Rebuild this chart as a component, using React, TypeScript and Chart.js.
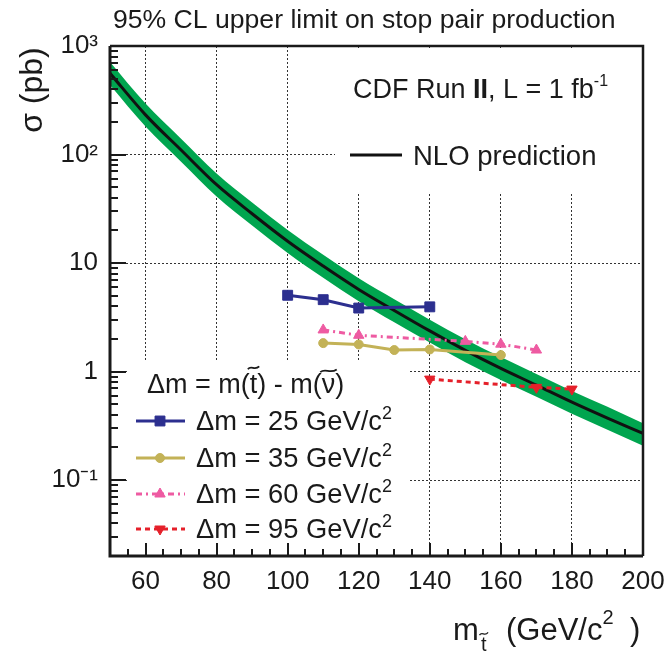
import React, { useEffect, useRef } from 'react';
import { Chart, registerables } from 'chart.js';

Chart.register(...registerables);

// ---------- data ----------
const stopMass = [50, 60, 70, 80, 90, 100, 110, 120, 130, 140, 150, 160, 170, 180, 190, 200];
const nloXsec = [560, 232, 110, 52.7, 28.5, 15.9, 9.4, 5.72, 3.66, 2.37, 1.57, 1.07, 0.75, 0.523, 0.373, 0.27];
const nloUpper = [711, 295, 140, 67, 36.2, 20.2, 11.9, 7.26, 4.65, 3.01, 1.99, 1.36, 0.95, 0.664, 0.474, 0.335];
const nloLower = [437, 181, 86, 41.1, 22.2, 12.4, 7.33, 4.46, 2.85, 1.85, 1.22, 0.835, 0.585, 0.408, 0.291, 0.207];

const dm25Mass = [100, 110, 120, 140];
const dm25Limit = [5.05, 4.6, 3.85, 3.95];
const dm35Mass = [110, 120, 130, 140, 160];
const dm35Limit = [1.83, 1.78, 1.58, 1.6, 1.42];
const dm60Mass = [110, 120, 150, 160, 170];
const dm60Limit = [2.42, 2.16, 1.9, 1.79, 1.58];
const dm95Mass = [140, 170, 180];
const dm95Limit = [0.853, 0.716, 0.69];

const seriesDeltaM = ['25', '35', '60', '95'];
const xTickValues = [60, 80, 100, 120, 140, 160, 180, 200];
const yTickValues = [0.1, 1, 10, 100, 1000];
const yTickLabels = ['10\u207B\u00B9', '1', '10', '10\u00B2', '10\u00B3'];

const FONT = "'Liberation Sans', Arial, Helvetica, sans-serif";
const INK = '#1a1a1a';

const pts = (xs: number[], ys: number[]) => xs.map((x, i) => ({ x, y: ys[i] }));

type Part = { t: string; size: number; dy?: number; bold?: boolean; x?: number; tilde?: number };

function drawTilde(ctx: CanvasRenderingContext2D, x0: number, w: number, y: number, lw: number) {
  ctx.save();
  ctx.strokeStyle = ctx.fillStyle as string;
  ctx.lineWidth = lw;
  ctx.setLineDash([]);
  ctx.beginPath();
  ctx.moveTo(x0, y + 1.2);
  ctx.bezierCurveTo(x0 + w * 0.3, y - 3.2, x0 + w * 0.6, y + 3.2, x0 + w, y - 1.6);
  ctx.stroke();
  ctx.restore();
}

function drawRich(ctx: CanvasRenderingContext2D, x: number, y: number, parts: Part[]) {
  let cx = x;
  for (const p of parts) {
    if (p.x !== undefined) cx = p.x;
    ctx.font = `${p.bold ? 'bold ' : ''}${p.size}px ${FONT}`;
    const by = y + (p.dy || 0);
    ctx.fillText(p.t, cx, by);
    const w = ctx.measureText(p.t).width;
    if (p.tilde !== undefined) {
      const tw = Math.max(w + 3, p.size * 0.42);
      drawTilde(ctx, cx + w / 2 - tw / 2, tw, by - p.tilde, p.size > 24 ? 1.8 : 1.3);
    }
    cx += w;
  }
}

function drawMarker(ctx: CanvasRenderingContext2D, style: string, rot: number, r: number, x: number, y: number, color: string) {
  ctx.save();
  ctx.fillStyle = color;
  ctx.strokeStyle = color;
  ctx.lineWidth = 1;
  ctx.setLineDash([]);
  ctx.beginPath();
  if (style === 'rect') {
    const s = r * Math.SQRT1_2;
    ctx.rect(x - s, y - s, 2 * s, 2 * s);
  } else if (style === 'circle') {
    ctx.arc(x, y, r, 0, Math.PI * 2);
  } else {
    let a = (rot * Math.PI) / 180;
    ctx.moveTo(x + Math.sin(a) * r, y - Math.cos(a) * r);
    a += (2 * Math.PI) / 3;
    ctx.lineTo(x + Math.sin(a) * r, y - Math.cos(a) * r);
    a += (2 * Math.PI) / 3;
    ctx.lineTo(x + Math.sin(a) * r, y - Math.cos(a) * r);
    ctx.closePath();
  }
  ctx.fill();
  ctx.stroke();
  ctx.restore();
}

const decorPlugin = {
  id: 'decor',
  beforeDatasetsDraw(chart: any) {
    const { ctx, chartArea } = chart;
    ctx.save();
    ctx.fillStyle = '#ffffff';
    // legend boxes hide the grid behind them
    ctx.fillRect(127, 360, 408 - 127, chartArea.bottom - 2 - 360);
    ctx.fillRect(335, chartArea.top + 2, chartArea.right - 2 - 335, 193 - chartArea.top - 2);
    ctx.restore();
  },
  afterDraw(chart: any) {
    const { ctx, chartArea } = chart;
    const { left, right, top, bottom } = chartArea;
    const xs = chart.scales.x;
    const ys = chart.scales.y;
    ctx.save();
    ctx.setLineDash([]);
    ctx.strokeStyle = INK;

    // tick marks (inward)
    ctx.lineWidth = 2;
    for (let e = -2; e <= 3; e++) {
      for (let k = 1; k <= 9; k++) {
        const v = k * Math.pow(10, e);
        if (v < ys.min * 0.999 || v > ys.max * 1.001) continue;
        const y = Math.round(ys.getPixelForValue(v));
        const len = k === 1 ? 16 : 8;
        ctx.beginPath();
        ctx.moveTo(left, y);
        ctx.lineTo(left + len, y);
        ctx.stroke();
      }
    }
    for (let v = 55; v <= 200; v += 5) {
      const x = Math.round(xs.getPixelForValue(v));
      const len = v % 20 === 0 ? 13 : 7;
      ctx.beginPath();
      ctx.moveTo(x, bottom);
      ctx.lineTo(x, bottom - len);
      ctx.stroke();
    }

    // frame
    ctx.lineWidth = 3;
    ctx.beginPath();
    ctx.moveTo(left, top);
    ctx.lineTo(left, bottom);
    ctx.lineTo(right, bottom);
    ctx.stroke();
    ctx.lineWidth = 2.5;
    ctx.beginPath();
    ctx.moveTo(left, top);
    ctx.lineTo(right, top);
    ctx.lineTo(right, bottom);
    ctx.stroke();

    ctx.fillStyle = INK;
    ctx.textAlign = 'left';
    ctx.textBaseline = 'alphabetic';

    // title
    drawRich(ctx, 113, 28, [{ t: '95% CL upper limit on stop pair production', size: 26.6 }]);

    // y axis title
    ctx.save();
    ctx.translate(33, 90);
    ctx.rotate(-Math.PI / 2);
    ctx.textAlign = 'center';
    ctx.textBaseline = 'middle';
    ctx.font = `32px ${FONT}`;
    ctx.fillText('\u03C3 (pb)', 0, 0);
    ctx.restore();

    // x axis title
    drawRich(ctx, 453, 640, [
      { t: 'm', size: 31 },
      { t: 't', size: 20, dy: 11, x: 481, tilde: 17 },
      { t: '(GeV/c', size: 31, x: 506 },
      { t: '2', size: 20, dy: -16 },
    ]);
    ctx.font = `31px ${FONT}`;
    ctx.fillText(')', 630, 640);

    // experiment label
    drawRich(ctx, 353, 98, [
      { t: 'CDF Run ', size: 27 },
      { t: 'II', size: 27, bold: true },
      { t: ', L = 1 fb', size: 27 },
      { t: '-1', size: 16, dy: -12 },
    ]);

    // NLO legend
    const nlo = chart.data.datasets[4];
    ctx.strokeStyle = nlo.borderColor;
    ctx.lineWidth = nlo.borderWidth;
    ctx.beginPath();
    ctx.moveTo(350, 155);
    ctx.lineTo(402, 155);
    ctx.stroke();
    drawRich(ctx, 413, 165, [{ t: 'NLO prediction', size: 27.5 }]);

    // Δm legend
    drawRich(ctx, 147, 393, [
      { t: '\u0394m = m(', size: 27 },
      { t: 't', size: 27, tilde: 25 },
      { t: ') - m(', size: 27 },
      { t: '\u03BD', size: 27, tilde: 22 },
      { t: ')', size: 27 },
    ]);
    const rowBase = [430, 467, 503, 538];
    for (let i = 0; i < 4; i++) {
      const ds = chart.data.datasets[i];
      const yc = rowBase[i] - 9;
      ctx.save();
      ctx.strokeStyle = ds.borderColor;
      ctx.lineWidth = ds.borderWidth;
      ctx.setLineDash(ds.borderDash || []);
      ctx.beginPath();
      ctx.moveTo(136, yc);
      ctx.lineTo(185, yc);
      ctx.stroke();
      ctx.restore();
      drawMarker(ctx, ds.pointStyle, ds.pointRotation || 0, ds.pointRadius, 160, yc, ds.borderColor);
      ctx.fillStyle = INK;
      drawRich(ctx, 196, rowBase[i], [
        { t: `\u0394m = ${seriesDeltaM[i]} GeV/c`, size: 27.3 },
        { t: '2', size: 18, dy: -11 },
      ]);
    }
    ctx.restore();
  },
};

const seriesStyle = [
  { color: '#2c2f8f', style: 'rect', rot: 0, r: 7, dash: [] as number[] },
  { color: '#c3b257', style: 'circle', rot: 0, r: 4.5, dash: [] as number[] },
  { color: '#ee5ba2', style: 'triangle', rot: 0, r: 6, dash: [6, 4, 2, 4] },
  { color: '#e5202a', style: 'triangle', rot: 180, r: 6, dash: [5, 4] },
];

export default function App() {
  const ref = useRef<HTMLCanvasElement>(null);
  useEffect(() => {
    document.body.style.margin = '0';
    const canvas = ref.current;
    if (!canvas) return;
    const seriesData = [
      pts(dm25Mass, dm25Limit),
      pts(dm35Mass, dm35Limit),
      pts(dm60Mass, dm60Limit),
      pts(dm95Mass, dm95Limit),
    ];
    const seriesSets = seriesData.map((d, i) => ({
      label: `\u0394m = ${seriesDeltaM[i]} GeV/c\u00B2`,
      data: d,
      borderColor: seriesStyle[i].color,
      backgroundColor: seriesStyle[i].color,
      borderWidth: 3,
      borderDash: seriesStyle[i].dash,
      pointStyle: seriesStyle[i].style,
      pointRotation: seriesStyle[i].rot,
      pointRadius: seriesStyle[i].r,
      pointBorderWidth: 1,
      fill: false,
      order: i,
    }));
    const chart = new Chart(canvas, {
      type: 'line',
      data: {
        datasets: [
          ...seriesSets,
          {
            label: 'NLO prediction',
            data: pts(stopMass, nloXsec),
            borderColor: '#111111',
            borderWidth: 3,
            pointRadius: 0,
            cubicInterpolationMode: 'monotone',
            fill: false,
            order: 4,
          },
          {
            label: 'NLO upper',
            data: pts(stopMass, nloUpper),
            borderWidth: 0,
            borderColor: 'rgba(0,0,0,0)',
            backgroundColor: '#00a54f',
            pointRadius: 0,
            cubicInterpolationMode: 'monotone',
            fill: '+1',
            order: 5,
          },
          {
            label: 'NLO lower',
            data: pts(stopMass, nloLower),
            borderWidth: 0,
            borderColor: 'rgba(0,0,0,0)',
            pointRadius: 0,
            cubicInterpolationMode: 'monotone',
            fill: false,
            order: 6,
          },
        ] as any,
      },
      options: {
        responsive: false,
        animation: false,
        devicePixelRatio: 1,
        layout: { padding: { left: 0, right: 24, top: 46, bottom: 0 } },
        plugins: {
          legend: { display: false },
          tooltip: { enabled: false },
          title: { display: false },
        },
        scales: {
          x: {
            type: 'linear',
            min: 50,
            max: 200,
            afterFit: (s: any) => {
              s.height = 97;
              s.paddingLeft = 0;
              s.paddingRight = 0;
            },
            afterBuildTicks: (s: any) => {
              s.ticks = xTickValues.map((v) => ({ value: v }));
            },
            ticks: {
              autoSkip: false,
              maxRotation: 0,
              padding: 10,
              color: INK,
              font: { family: FONT, size: 26 },
              callback: (v: any) => String(v),
            },
            grid: {
              drawTicks: false,
              lineWidth: 1,
              color: (c: any) => (c.tick && c.tick.value >= 200 ? 'rgba(0,0,0,0)' : '#333333'),
            },
            border: { display: false, dash: [2, 2] },
          },
          y: {
            type: 'logarithmic',
            min: 0.02,
            max: 1000,
            afterFit: (s: any) => {
              s.width = 110;
              s.paddingTop = 0;
              s.paddingBottom = 0;
            },
            afterBuildTicks: (s: any) => {
              s.ticks = yTickValues.map((v) => ({ value: v }));
            },
            ticks: {
              autoSkip: false,
              padding: 12,
              color: INK,
              font: { family: FONT, size: 26 },
              callback: (v: any) => {
                const i = yTickValues.findIndex((t) => Math.abs(t - v) / t < 1e-6);
                return i >= 0 ? yTickLabels[i] : '';
              },
            },
            grid: {
              drawTicks: false,
              lineWidth: 1,
              color: (c: any) => (c.tick && c.tick.value >= 1000 ? 'rgba(0,0,0,0)' : '#333333'),
            },
            border: { display: false, dash: [2, 2] },
          },
        },
      } as any,
      plugins: [decorPlugin],
    });
    return () => chart.destroy();
  }, []);
  return <canvas ref={ref} width={667} height={653} style={{ display: 'block' }} />;
}
